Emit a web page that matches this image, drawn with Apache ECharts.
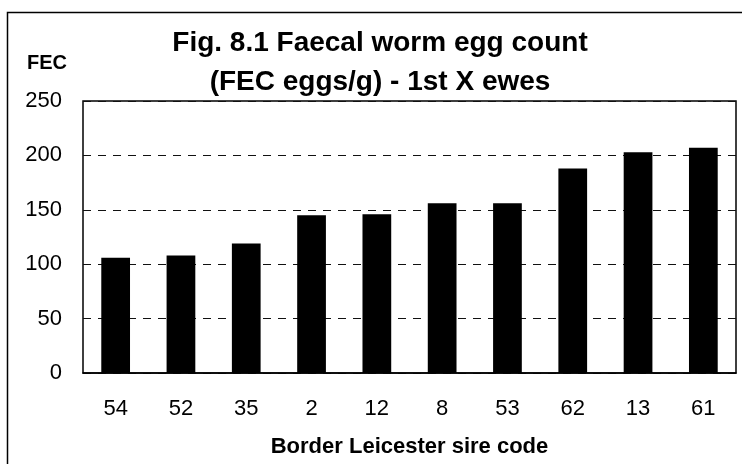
<!DOCTYPE html>
<html>
<head>
<meta charset="utf-8">
<script src="https://cdn.jsdelivr.net/npm/echarts@6/dist/echarts.min.js"></script>
<style>
  html, body { margin: 0; padding: 0; background: #fff; }
  #chart { width: 742px; height: 464px; }
</style>
</head>
<body>
<div id="chart"></div>
<script>
// Sire codes along the x axis, in plotted order
const sireCodes = ['54', '52', '35', '2', '12', '8', '53', '62', '13', '61'];
// Mean faecal egg count (eggs/g) for each sire's 1st X ewes
const fecValues = [106, 108, 119, 145, 146, 156, 156, 188, 203, 207];
// Value axis ticks
const yTicks = [0, 50, 100, 150, 200, 250];

const titleLines = ['Fig. 8.1 Faecal worm egg count', '(FEC eggs/g) - 1st X ewes'];
const font = '"Liberation Sans", Arial, sans-serif';

const chart = echarts.init(document.getElementById('chart'), null, { renderer: 'canvas' });

chart.setOption({
  animation: false,
  backgroundColor: '#fff',
  grid: {
    left: 83, right: 6, top: 101, bottom: 91,
    show: true,
    borderColor: '#000',
    borderWidth: 1.5,
    containLabel: false
  },
  xAxis: {
    type: 'category',
    data: sireCodes,
    axisLine: { show: true, lineStyle: { color: '#000', width: 1.5 } },
    axisTick: { show: false },
    axisLabel: { color: '#000', fontSize: 22, fontFamily: font, margin: 25 },
    name: 'Border Leicester sire code',
    nameLocation: 'middle',
    nameGap: 63,
    nameTextStyle: { color: '#000', fontSize: 22, fontWeight: 'bold', fontFamily: font }
  },
  yAxis: {
    type: 'value',
    min: yTicks[0],
    max: yTicks[yTicks.length - 1],
    interval: yTicks[1] - yTicks[0],
    axisLine: { show: false },
    axisTick: { show: false },
    axisLabel: { color: '#000', fontSize: 22, fontFamily: font, margin: 21 },
    splitLine: {
      show: true,
      lineStyle: { color: '#111', width: 1, type: [8, 7] }
    }
  },
  series: [{
    type: 'bar',
    data: fecValues,
    barWidth: '44%',
    itemStyle: { color: '#000' },
    z: 3
  }],
  graphic: [
    {
      type: 'rect',
      shape: { x: 7.5, y: 12.5, width: 800, height: 500 },
      style: { fill: 'none', stroke: '#000', lineWidth: 1.5 },
      silent: true
    },
    {
      type: 'text', x: 380, y: 43,
      style: {
        text: titleLines[0], fill: '#000',
        font: 'bold 28px ' + font,
        textAlign: 'center', textVerticalAlign: 'middle'
      }
    },
    {
      type: 'text', x: 380, y: 82,
      style: {
        text: titleLines[1], fill: '#000',
        font: 'bold 28px ' + font,
        textAlign: 'center', textVerticalAlign: 'middle'
      }
    },
    {
      type: 'text', x: 27, y: 63,
      style: {
        text: 'FEC', fill: '#000',
        font: 'bold 20px ' + font,
        textAlign: 'left', textVerticalAlign: 'middle'
      }
    }
  ]
});
</script>
</body>
</html>
